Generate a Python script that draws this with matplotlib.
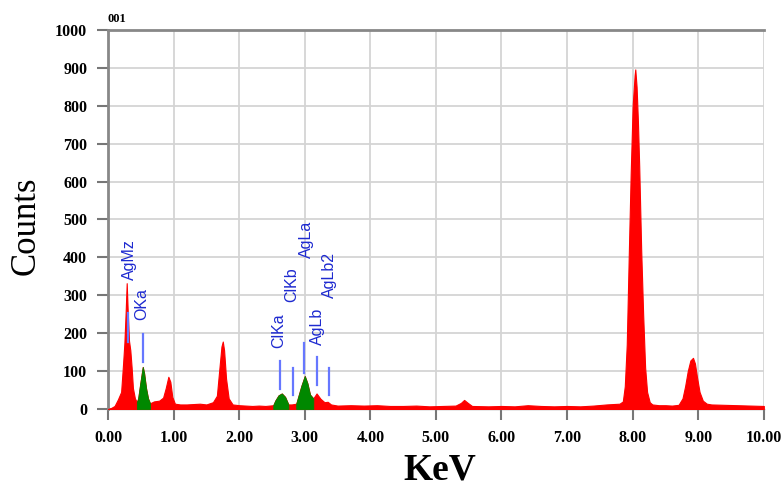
import numpy as np
import matplotlib
matplotlib.use("Agg")
import matplotlib.pyplot as plt

# ---- data ----
energy = [0.00, 0.05, 0.10, 0.15, 0.20, 0.23, 0.25, 0.27, 0.285, 0.30, 0.32, 0.34, 0.36, 0.38, 0.41,
          0.44, 0.46, 0.49, 0.52, 0.53, 0.55, 0.58, 0.61, 0.64, 0.70, 0.78, 0.84, 0.88, 0.92, 0.95,
          0.98, 1.02, 1.10, 1.20, 1.30, 1.40, 1.50, 1.60, 1.66, 1.70, 1.73, 1.75, 1.77, 1.80, 1.84,
          1.90, 2.00, 2.10, 2.20, 2.30, 2.40, 2.52, 2.55, 2.60, 2.65, 2.70, 2.75, 2.80, 2.87, 2.90,
          2.95, 3.00, 3.04, 3.08, 3.13, 3.18, 3.24, 3.30, 3.35, 3.40, 3.50, 3.70, 3.90, 4.10, 4.30,
          4.50, 4.70, 4.90, 5.10, 5.30, 5.38, 5.43, 5.48, 5.55, 5.80, 6.00, 6.20, 6.40, 6.60, 6.80,
          7.00, 7.20, 7.40, 7.60, 7.80, 7.85, 7.88, 7.91, 7.94, 7.97, 8.00, 8.03, 8.04, 8.06, 8.08,
          8.10, 8.13, 8.16, 8.19, 8.22, 8.26, 8.30, 8.40, 8.50, 8.60, 8.70, 8.76, 8.80, 8.84, 8.88,
          8.92, 8.95, 8.98, 9.02, 9.07, 9.13, 9.20, 9.40, 9.60, 9.80, 10.00]
counts = [0, 3, 8, 25, 45, 120, 175, 260, 332, 260, 180, 155, 110, 55, 28,
          18, 28, 65, 100, 111, 95, 55, 28, 15, 20, 22, 30, 55, 85, 72,
          32, 14, 12, 12, 13, 14, 12, 18, 35, 110, 165, 178, 155, 80, 28,
          12, 10, 9, 8, 9, 8, 10, 22, 36, 41, 32, 12, 12, 14, 32,
          62, 87, 68, 38, 28, 41, 27, 18, 19, 12, 9, 10, 9, 10, 8,
          8, 9, 7, 8, 9, 16, 24, 17, 8, 7, 8, 7, 10, 8, 7,
          8, 7, 9, 12, 14, 20, 60, 170, 400, 620, 800, 880, 896, 850, 760,
          640, 420, 250, 110, 45, 18, 12, 10, 10, 9, 11, 28, 60, 100, 128,
          135, 120, 85, 45, 22, 14, 12, 11, 10, 9, 8]

# element windows shaded green
green_windows = [(0.44, 0.64), (2.52, 2.75), (2.87, 3.13)]

# line markers: name, energy, marker bottom, marker top, label x, label bottom
marker_names = ["AgMz", "OKa", "ClKa", "ClKb", "AgLa", "AgLb", "AgLb2"]
marker_energy = [0.31, 0.54, 2.63, 2.82, 2.99, 3.18, 3.37]
marker_low = [178, 125, 52, 37, 95, 63, 37]
marker_high = [254, 198, 127, 108, 174, 137, 108]
label_x = [0.32, 0.51, 2.61, 2.80, 3.03, 3.20, 3.38]
label_y = [340, 235, 161, 283, 398, 169, 293]

xticks = [0, 1, 2, 3, 4, 5, 6, 7, 8, 9, 10]
xtick_labels = ["0.00", "1.00", "2.00", "3.00", "4.00", "5.00", "6.00", "7.00", "8.00", "9.00", "10.00"]
yticks = list(range(0, 1001, 100))

# ---- figure ----
fig = plt.figure(figsize=(7.81, 4.90), dpi=100)
ax = fig.add_axes([0.1383, 0.1653, 0.8397, 0.7735])

e = np.array(energy)
c = np.array(counts)
ax.fill_between(e, 0, c, color="#ff0000", linewidth=0.8, edgecolor="#ff0000", zorder=3)
for lo, hi in green_windows:
    m = (e >= lo - 1e-9) & (e <= hi + 1e-9)
    ax.fill_between(e, 0, c, where=m, color="#008800", linewidth=0.6, edgecolor="#008800", zorder=4)

blue_line = "#6677ff"
blue_text = "#1e2ad0"
for name, xe, lo, hi, lx, ly in zip(marker_names, marker_energy, marker_low, marker_high, label_x, label_y):
    ax.plot([xe, xe], [lo, hi], color=blue_line, lw=1.6, zorder=5)
    ax.text(lx, ly, name, rotation=90, ha="center", va="bottom", color=blue_text,
            fontsize=11.5, family=["Liberation Sans Narrow", "Liberation Sans", "DejaVu Sans"], zorder=6)

ax.set_xlim(0, 10)
ax.set_ylim(0, 1000)
ax.set_xticks(xticks)
ax.set_xticklabels(xtick_labels)
ax.set_yticks(yticks)

ax.grid(True, color="#d4d4d4", lw=1.3, zorder=0)
ax.set_axisbelow(True)

ax.spines["right"].set_visible(False)
ax.spines["left"].set_color("#888888")
ax.spines["left"].set_linewidth(2.0)
ax.spines["top"].set_color("#888888")
ax.spines["top"].set_linewidth(2.0)
ax.spines["bottom"].set_color("#888888")
ax.spines["bottom"].set_linewidth(1.0)

ax.tick_params(axis="both", direction="out", length=8, width=1.5, color="#777777", pad=7)
for lab in ax.get_xticklabels() + ax.get_yticklabels():
    lab.set_fontfamily("Liberation Serif")
    lab.set_fontweight("bold")
    lab.set_fontsize(11.5)

fig.text(108 / 781, 1 - 25 / 490, "001", family="Liberation Serif", weight="bold", fontsize=9,
         ha="left", va="bottom")
fig.text(26 / 781, 1 - 226 / 490, "Counts", family="Liberation Serif", fontsize=25,
         rotation=90, ha="center", va="center")
fig.text(440 / 781, 1 - 470 / 490, "KeV", family="Liberation Serif", weight="bold", fontsize=27,
         ha="center", va="center")

fig.savefig("out.png", dpi=100)
